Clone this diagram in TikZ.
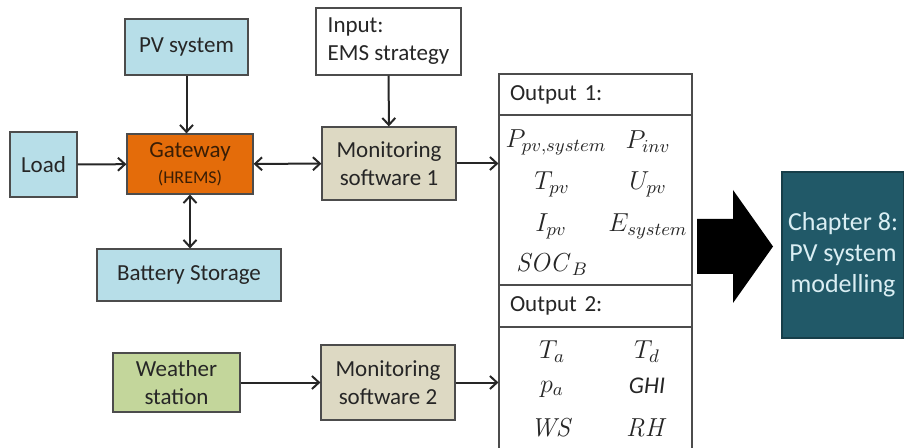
\RequirePackage{fix-cm}
\documentclass[tikz,border=0pt]{standalone}
\usepackage[no-math]{fontspec}
\setmainfont{Carlito}
\usetikzlibrary{arrows.meta}
\definecolor{boxblue}{HTML}{B7DEE8}
\definecolor{boxorange}{HTML}{E46C0A}
\definecolor{boxtan}{HTML}{DDD9C3}
\definecolor{boxgreen}{HTML}{C3D69B}
\definecolor{boxteal}{HTML}{215968}
\definecolor{tealtext}{HTML}{DAEEF3}
\definecolor{gatetext}{HTML}{3A1E05}
\tikzset{
  blkbox/.style={draw=black!70, line width=0.6pt, text=black!85, align=center,
    inner sep=1pt, font=\fontsize{11.5}{14}\selectfont},
  blkblue/.style={blkbox, fill=boxblue},
  blkorange/.style={blkbox, fill=boxorange, text=gatetext},
  blktan/.style={blkbox, fill=boxtan},
  blkgreen/.style={blkbox, fill=boxgreen},
  blkwhite/.style={blkbox, fill=white},
  blkhead/.style={blkwhite, minimum width=96.5pt, text width=85.5pt, inner xsep=5.5pt, align=left},
  blkmath/.style={inner sep=0pt, text=black!85, font=\fontsize{13}{15}\selectfont},
  blklink/.style={line width=1pt, draw=black!85, -{Straight Barb[length=3.5pt,width=6.5pt]}},
  blkboth/.style={blklink, {Straight Barb[length=3.5pt,width=6.5pt]}-{Straight Barb[length=3.5pt,width=6.5pt]}},
}
\begin{document}
\begin{tikzpicture}[x=0.5pt, y=-0.5pt]
\useasboundingbox (0,0) rectangle (904,448);

% left side
\node[blkblue, minimum width=61.5pt, minimum height=28pt] (pv) at (186.5,47) {PV system};
\node[blkblue, minimum width=33.5pt, minimum height=32.5pt] (load) at (43.5,164.5) {Load};
\node[blkorange, minimum width=63pt, minimum height=30pt] (gate) at (190,164)
  {Gateway\\[-1pt]{\fontsize{9}{11}\selectfont (HREMS)}};
\node[blkblue, minimum width=92pt, minimum height=26pt] (bat) at (189,275) {Battery Storage};
\node[blkgreen, minimum width=63.5pt, minimum height=29.5pt] (wst) at (176.5,382.5) {Weather\\station};

% monitoring
\node[blkwhite, minimum width=72.5pt, minimum height=33.5pt, align=left] (inp) at (388.5,41.5) {Input:\\EMS strategy};
\node[blktan, minimum width=67pt, minimum height=36.5pt] (mon1) at (389,163.5) {Monitoring\\software 1};
\node[blktan, minimum width=67pt, minimum height=37.5pt] (mon2) at (388,382.5) {Monitoring\\software 2};

% outputs
\node[blkhead, minimum height=20.5pt] (head1) at (595.5,94.5) {Output 1:};
\node[blkwhite, minimum width=96.5pt, minimum height=85pt] (out1) at (595.5,200) {};
\node[blkhead, minimum height=21pt] (head2) at (595.5,306) {Output 2:};
\node[blkwhite, minimum width=96.5pt, minimum height=66.5pt] (out2) at (595.5,393.5) {};

\node[blkmath] (ppv) at (556,142) {$P_{pv,system}$};
\node[blkmath] (pinv) at (648,142) {$P_{inv}$};
\node[blkmath] (tpv) at (552,184) {$T_{pv}$};
\node[blkmath] (upv) at (648,184) {$U_{pv}$};
\node[blkmath] (ipv) at (551,226) {$I_{pv}$};
\node[blkmath] (esys) at (648,226) {$E_{system}$};
\node[blkmath] (soc) at (552,265) {$\mathit{SOC}_B$};
\node[blkmath] (ta) at (552,352) {$T_a$};
\node[blkmath] (td) at (647,352) {$T_d$};
\node[blkmath] (pa) at (552,389) {$p_a$};
\node[blkmath, font=\fontsize{12}{14}\selectfont\itshape] (ghi) at (647,386) {GHI};
\node[blkmath] (ws) at (552,428) {$\mathit{WS}$};
\node[blkmath] (rh) at (647,428) {$\mathit{RH}$};

% chapter
\fill[black] (697,219) -- (733,219) -- (733,190) -- (773,246.5) -- (733,303) -- (733,274) -- (697,274) -- cycle;
\node[fill=boxteal, draw=boxteal!70!black, line width=0.6pt, text=tealtext, align=center, inner sep=1pt,
  minimum width=61pt, minimum height=83pt, font=\fontsize{13}{15.5}\selectfont] (chap) at (843,255)
  {Chapter 8:\\PV system\\modelling};

% connectors
\draw[blklink] (pv) -- (pv |- gate.north);
\draw[blklink] (load) -- (gate);
\draw[blkboth] (gate) -- (mon1);
\draw[blkboth] (gate.south) -- (bat.north -| gate.south);
\draw[blklink] (inp) -- (mon1);
\draw[blklink] (mon1) -- (mon1 -| out1.west);
\draw[blklink] (wst) -- (mon2);
\draw[blklink] (mon2) -- (mon2 -| out2.west);
\end{tikzpicture}
\end{document}
